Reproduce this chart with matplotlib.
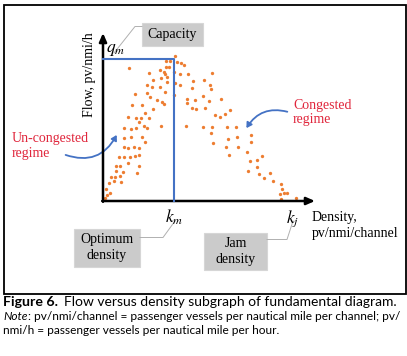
import matplotlib
matplotlib.use("Agg")
import matplotlib.pyplot as plt
from matplotlib.patches import Rectangle, FancyArrowPatch

plt.rcParams['mathtext.fontset'] = 'stix'

# ---- data (arbitrary density / flow units) ----
density = [26.3, 72.3, 62.7, 67.0, 73.7, 78.0, 81.3, 46.0, 56.7, 60.7, 66.3, 62.7,
           50.0, 58.3, 62.3, 64.3, 70.7, 77.0, 85.0, 109.3, 44.3, 49.0, 57.3, 63.7,
           72.0, 77.3, 90.3, 101.3, 107.3, 89.0, 108.3, 44.0, 62.0, 71.0, 32.0, 46.7,
           53.7, 59.0, 61.0, 84.0, 92.3, 100.0, 84.3, 106.3, 117.7, 28.7, 39.0, 49.7,
           42.3, 88.7, 93.3, 101.7, 126.7, 111.7, 116.7, 122.0, 25.0, 33.0, 38.0, 46.0,
           35.7, 41.0, 44.0, 58.0, 82.7, 100.0, 109.3, 123.7, 133.0, 21.3, 27.7, 32.7,
           21.0, 28.0, 38.7, 41.7, 108.0, 134.0, 125.0, 21.0, 25.3, 31.0, 36.0, 109.7,
           123.0, 134.7, 143.7, 126.3, 16.3, 21.0, 26.7, 31.7, 36.0, 158.7, 147.0, 154.3,
           13.0, 17.0, 25.3, 35.7, 12.7, 19.7, 34.3, 145.3, 155.7, 167.0, 8.3, 12.0,
           17.0, 161.3, 170.3, 11.3, 6.3, 18.0, 3.3, 7.0, 3.7, 177.7, 179.3, 177.0,
           181.0, 184.3, 2.3, 178.0, 192.7, 147.7, 147.7, 154.3]
flow = [133.3, 145.3, 140.0, 140.0, 138.7, 137.7, 136.0, 128.3, 131.0, 129.3, 134.3, 134.3,
        121.0, 123.3, 127.0, 124.3, 129.3, 127.0, 127.0, 127.7, 116.0, 113.7, 114.3, 119.3,
        117.7, 116.0, 120.0, 121.0, 116.0, 112.7, 111.7, 108.3, 109.3, 106.3, 107.0, 103.7,
        101.0, 98.7, 97.0, 102.0, 101.0, 105.0, 98.3, 100.3, 101.7, 96.0, 96.0, 91.7,
        87.7, 92.7, 92.0, 92.7, 91.0, 85.7, 84.3, 86.7, 84.3, 82.7, 82.7, 82.7,
        79.3, 75.0, 73.3, 75.0, 75.0, 74.3, 74.3, 74.0, 74.0, 73.3, 71.7, 72.7,
        63.0, 63.7, 64.3, 59.3, 67.7, 64.3, 61.7, 54.3, 53.0, 54.3, 53.0, 58.3,
        54.3, 54.3, 49.3, 46.0, 43.7, 43.7, 44.3, 45.3, 46.0, 45.3, 40.3, 41.0,
        35.3, 35.3, 37.7, 35.0, 30.3, 29.0, 28.3, 30.3, 26.7, 28.3, 24.3, 24.3,
        25.3, 22.7, 20.3, 20.3, 18.3, 18.7, 12.3, 8.3, 6.0, 16.7, 11.7, 7.0,
        7.7, 7.7, 2.7, 2.0, 2.7, 66.0, 59.3, 33.7]
k_m = 71.5      # optimum density
q_m = 142.3     # capacity
k_j = 190.0     # jam density
x_max = 212.0
y_max = 168.0

W, H = 407, 356
fig = plt.figure(figsize=(W / 100, H / 100), dpi=100)

# background axes in pixel coordinates for annotations
bg = fig.add_axes([0, 0, 1, 1])
bg.set_xlim(0, W)
bg.set_ylim(H, 0)
bg.axis('off')

# outer frame
bg.add_patch(Rectangle((4, 5), 402, 289, fill=False, edgecolor='black', lw=1.3))

# plot axes
x0, y0, x1, y1 = 103, 201, 315, 33
ax = fig.add_axes([x0 / W, 1 - y0 / H, (x1 - x0) / W, (y0 - y1) / H])
ax.set_xlim(0, x_max)
ax.set_ylim(0, y_max)
ax.axis('off')

ax.plot(density, flow, 'o', color='#ED7D31', markersize=2.4, markeredgewidth=0,
        clip_on=False, zorder=3)
ax.plot([0, k_m, k_m], [q_m, q_m, 0], color='#4472C4', lw=1.5, zorder=4, clip_on=False)

arrow_kw = dict(arrowstyle='-|>,head_length=0.5,head_width=0.22', color='black', lw=1.8,
                shrinkA=0, shrinkB=0)
ax.annotate('', xy=(x_max, 0), xytext=(-0.8, 0), arrowprops=arrow_kw, annotation_clip=False)
ax.annotate('', xy=(0, y_max), xytext=(0, -0.8), arrowprops=arrow_kw, annotation_clip=False)

serif = 'Liberation Serif'
ax.text(k_m, -7, r'$k_m$', ha='center', va='top', fontsize=12.5)
ax.text(k_j, -7, r'$k_j$', ha='center', va='top', fontsize=12.5)
ax.text(3, q_m + 0.5, r'$q_m$', ha='left', va='bottom', fontsize=12.5)

# axis titles
bg.text(90, 75, 'Flow, pv/nmi/h', rotation=90, ha='center', va='center',
        fontsize=10, family=serif)
bg.text(312, 217, 'Density,', ha='left', va='center', fontsize=10, family=serif)
bg.text(312, 233, 'pv/nmi/channel', ha='left', va='center', fontsize=10, family=serif)

# gray boxes with leader lines
def gbox(xa, ya, xb, yb, text):
    bg.add_patch(Rectangle((xa, ya), xb - xa, yb - ya, facecolor='#cbcbcb',
                           edgecolor='#d6d6d6', lw=0.8, zorder=2))
    bg.text((xa + xb) / 2, (ya + yb) / 2, text, ha='center', va='center',
            fontsize=10, family=serif, zorder=3, linespacing=1.3)

gbox(142, 23, 203, 46, 'Capacity')
gbox(74, 229, 140, 267, 'Optimum\ndensity')
gbox(204, 233, 267, 270, 'Jam\ndensity')

lc = '#b0b0b0'
bg.plot([142, 135, 114], [26.5, 26.5, 53], color=lc, lw=0.7)
bg.plot([140, 163, 175], [237.5, 237.5, 221], color=lc, lw=0.7)
bg.plot([267, 287, 293], [239.5, 239.5, 221], color=lc, lw=0.7)

# red regime labels
red = '#E0263C'
bg.text(12, 146, 'Un-congested\nregime', ha='left', va='center', fontsize=10,
        family=serif, color=red, linespacing=1.15)
bg.text(293, 112.5, 'Congested\nregime', ha='left', va='center', fontsize=10,
        family=serif, color=red, linespacing=1.15)

blue = '#4472C4'
bg.add_patch(FancyArrowPatch((63, 154), (118, 132.5),
                             connectionstyle='arc3,rad=0.45',
                             arrowstyle='-|>,head_length=3,head_width=1.8',
                             color=blue, lw=1.3, mutation_scale=1))
bg.add_patch(FancyArrowPatch((290, 112.5), (245, 130.5),
                             connectionstyle='arc3,rad=0.4',
                             arrowstyle='-|>,head_length=3,head_width=1.8',
                             color=blue, lw=1.3, mutation_scale=1))

# caption (pieces placed one after the other)
sans = 'Lato'
renderer = fig.canvas.get_renderer()
inv = bg.transData.inverted()

def after(t, gap=0.0):
    bb = t.get_window_extent(renderer)
    return inv.transform((bb.x1, bb.y0))[0] + gap

t1 = bg.text(3, 302, 'Figure 6.', ha='left', va='center', fontsize=10.2,
             family=sans, weight='bold')
bg.text(after(t1, 6), 302, 'Flow versus density subgraph of fundamental diagram.',
        ha='left', va='center', fontsize=10.0, family=sans)
t2 = bg.text(3, 317, 'Note', ha='left', va='center', fontsize=8.6, family=sans,
             style='italic')
bg.text(after(t2, 0.3), 317,
        ': pv/nmi/channel = passenger vessels per nautical mile per channel; pv/',
        ha='left', va='center', fontsize=8.6, family=sans)
bg.text(3, 331, 'nmi/h = passenger vessels per nautical mile per hour.', ha='left',
        va='center', fontsize=8.6, family=sans)

fig.savefig('out.png', dpi=100)
